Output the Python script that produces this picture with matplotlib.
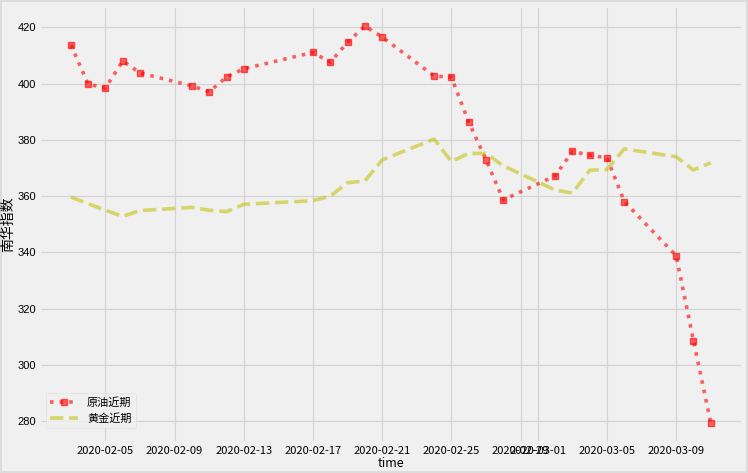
import numpy as np
import pandas as pd
import matplotlib
matplotlib.use('Agg')
import matplotlib.pyplot as plt
import matplotlib.dates as mdates

plt.style.use('fivethirtyeight')
plt.rcParams['font.family'] = ['Noto Sans CJK SC', 'DejaVu Sans']
plt.rcParams['axes.unicode_minus'] = False

# trading days
dates = pd.to_datetime([
    '2020-02-03', '2020-02-04', '2020-02-05', '2020-02-06', '2020-02-07',
    '2020-02-10', '2020-02-11', '2020-02-12', '2020-02-13',
    '2020-02-17', '2020-02-18', '2020-02-19', '2020-02-20', '2020-02-21',
    '2020-02-24', '2020-02-25', '2020-02-26', '2020-02-27', '2020-02-28',
    '2020-03-02', '2020-03-03', '2020-03-04', '2020-03-05', '2020-03-06',
    '2020-03-09', '2020-03-10', '2020-03-11',
])

crude = [413.8, 399.8, 398.5, 408.1, 403.8,
         399.2, 397.1, 402.4, 405.3,
         411.1, 407.6, 414.7, 420.5, 416.6,
         402.7, 402.3, 386.4, 373.0, 358.7,
         367.2, 375.9, 374.6, 373.6, 358.1,
         338.8, 308.6, 279.4]

gold = [359.7, 357.3, 355.0, 352.8, 354.9,
        356.0, 355.0, 354.5, 357.1,
        358.4, 360.0, 364.8, 365.4, 372.9,
        380.3, 372.3, 375.2, 375.2, 370.8,
        362.2, 361.1, 369.2, 369.5, 376.8,
        374.0, 369.3, 371.9]

fig, ax = plt.subplots(figsize=(7.48, 4.73), dpi=100)
fig.patch.set_facecolor('#f0f0f0')
fig.patch.set_edgecolor('#dcdcdc')
fig.patch.set_linewidth(1.5)
fig.subplots_adjust(left=0.052, right=0.993, top=0.987, bottom=0.064)

ax.plot(dates, crude, 'r:', marker='s', markersize=4.5, linewidth=2.6, alpha=0.6, label='原油近期')
ax.plot(dates, gold, 'y--', linewidth=2.6, alpha=0.55, label='黄金近期')

ax.xaxis.set_major_locator(mdates.DayLocator(bymonthday=range(1, 32, 4)))
ax.xaxis.set_major_formatter(mdates.DateFormatter('%Y-%m-%d'))
ax.set_yticks(np.arange(280, 421, 20))

ax.tick_params(axis='x', labelsize=8, pad=2)
ax.tick_params(axis='y', labelsize=8, pad=2)
for lab in ax.get_yticklabels():
    lab.set_family(['Liberation Sans', 'DejaVu Sans'])

ax.set_xlabel('time', fontsize=9, labelpad=1)
ax.set_ylabel('南华指数', fontsize=10, labelpad=2)
ax.grid(True, color='#d4d4d4', linewidth=0.9)

ax.legend(loc='lower left', fontsize=8, frameon=True, framealpha=0.8,
          facecolor='#f0f0f0', edgecolor='#dddddd', handlelength=2.5,
          bbox_to_anchor=(0.002, 0.02))

fig.savefig('out.png', dpi=100, facecolor=fig.get_facecolor(),
            edgecolor=fig.get_edgecolor())
